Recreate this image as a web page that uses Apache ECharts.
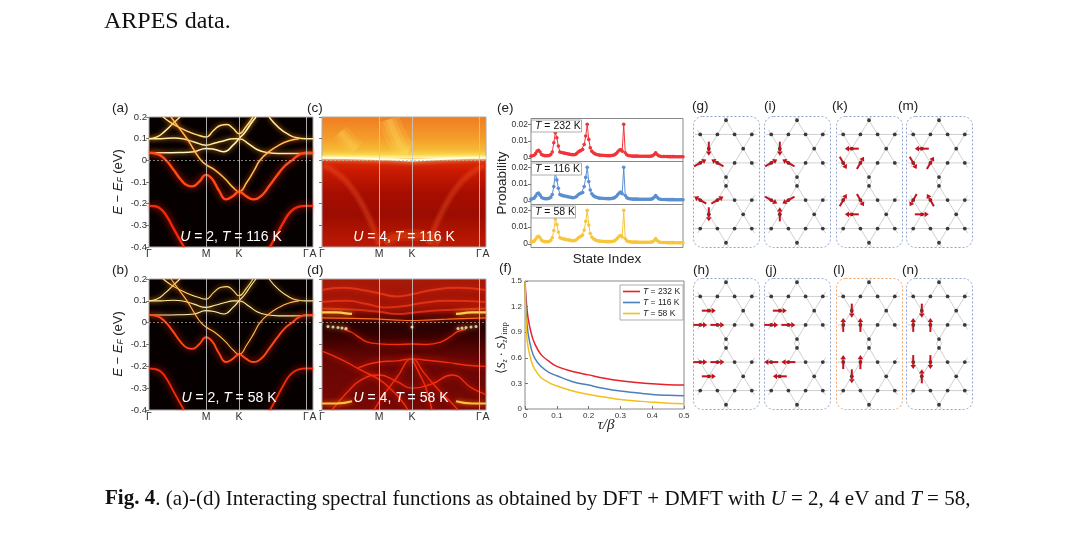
<!DOCTYPE html>
<html>
<head>
<meta charset="utf-8">
<script src="https://cdn.jsdelivr.net/npm/echarts@6/dist/echarts.min.js"></script>
<style>
  html, body { margin: 0; padding: 0; background: #fff; }
  #main { width: 1080px; height: 539px; }
</style>
</head>
<body>
<div id="main"></div>
<script>
// k-path ticks (path length, arbitrary units) and their names
var kTicks = [0, 57, 90, 157, 164];
var kNames = ['Γ', 'M', 'K', 'Γ', 'A'];

// U = 2 bands [k, E-EF (eV)] (a)/(b)
var u2BandA = [[0,0.100],[8,0.108],[16,0.135],[24,0.170],[31,0.200]];
var u2BandB = [[14,0.200],[25,0.165],[38,0.135],[50,0.115],[57,0.108],[65,0.140],[72,0.162],[78,0.165],[84,0.148],[90,0.123],[97,0.155],[104,0.200]];
var u2BandC = [[0,0.100],[12,0.100],[25,0.103],[35,0.098],[45,0.085],[57,0.070],[66,0.080],[76,0.092],[84,0.100],[90,0.100],[100,0.075],[108,0.050],[118,0.036],[130,0.031],[145,0.031],[157,0.032],[164,0.032]];
var u2BandD = [[0,0.035],[15,0.035],[30,0.036],[45,0.040],[57,0.055],[66,0.050],[75,0.040],[84,0.070],[90,0.100],[96,0.130],[102,0.170],[107,0.200]];
var u2BandE = [[120,0.200],[130,0.150],[140,0.118],[148,0.104],[157,0.100],[164,0.100]];
var u2BandV = [[22,0.200],[30,0.150],[38,0.100],[46,0.040],[52,0.000],[57,-0.020],[66,-0.045],[76,-0.085],[84,-0.125],[90,-0.145],[98,-0.100],[105,-0.048],[111,0.000],[120,0.040],[130,0.070],[140,0.090],[150,0.100]];
var u2BandW = [[0,0.035],[8,0.030],[16,0.005],[24,-0.040],[32,-0.090],[38,-0.115],[43,-0.120],[50,-0.100],[57,-0.067],[63,-0.085],[70,-0.140],[77,-0.180],[84,-0.165],[90,-0.145],[97,-0.165],[104,-0.180],[112,-0.165],[120,-0.120],[128,-0.070],[136,-0.025],[143,0.000],[150,0.025],[157,0.035],[164,0.035]];
var u2LowL = [[0,-0.210],[6,-0.212],[12,-0.225],[18,-0.260],[24,-0.310],[30,-0.360],[35,-0.400]];
var u2LowR = [[121,-0.400],[127,-0.350],[134,-0.290],[141,-0.240],[149,-0.215],[157,-0.210],[164,-0.210]];

// U = 4, T = 116 K features (c)
var u4hotFermi = [[0,0.012],[20,0.011],[40,0.009],[57,0.006],[70,0.004],[90,0.000],[110,0.004],[130,0.009],[150,0.012],[164,0.012]];
var u4hotPlume = [[67,0.190],[70,0.150],[75,0.100],[80,0.060],[86,0.035]];
var u4hotPlume2 = [[18,0.130],[26,0.090],[34,0.050]];
var u4hotArcL = [[2,-0.025],[15,-0.060],[30,-0.130],[42,-0.220],[52,-0.320],[57,-0.390]];
var u4hotArcR = [[107,-0.390],[112,-0.320],[122,-0.220],[134,-0.130],[149,-0.060],[162,-0.025]];
var u4hotBase = [[62,-0.380],[72,-0.355],[90,-0.345],[108,-0.355],[118,-0.380]];

// U = 4, T = 58 K bands (d)
var u4coldTop1 = [[0,0.150],[20,0.160],[40,0.150],[57,0.135],[75,0.120],[90,0.130],[110,0.150],[135,0.160],[164,0.150]];
var u4coldTop2 = [[0,0.095],[25,0.100],[45,0.085],[62,0.070],[80,0.075],[100,0.090],[125,0.100],[164,0.095]];
var u4coldTop3 = [[0,0.065],[30,0.060],[57,0.050],[75,0.040],[90,0.045],[110,0.055],[135,0.060],[164,0.065]];
var u4coldEdgeL = [[0,0.047],[14,0.047],[22,0.044],[30,0.040]];
var u4coldEdgeR = [[134,0.040],[142,0.044],[150,0.047],[164,0.047]];
var u4coldFermi = [[0,0.022],[30,0.020],[57,0.016],[75,0.012],[90,0.010],[105,0.012],[125,0.016],[164,0.022]];
var u4coldDots = [[6,-0.018],[11,-0.020],[16,-0.022],[20,-0.024],[24,-0.027],[136,-0.027],[140,-0.024],[144,-0.022],[149,-0.020],[154,-0.018],[90,-0.020]];
var u4coldB1 = [[22,-0.030],[30,-0.045],[38,-0.070],[45,-0.088],[57,-0.097],[75,-0.100],[90,-0.098],[105,-0.100],[118,-0.090],[128,-0.065],[136,-0.040],[144,-0.030]];
var u4coldB2 = [[35,-0.210],[57,-0.180],[75,-0.175],[90,-0.166],[105,-0.172],[125,-0.182],[145,-0.195],[164,-0.200]];
var u4coldB3 = [[0,-0.130],[20,-0.170],[40,-0.220],[57,-0.260],[70,-0.310],[80,-0.360],[86,-0.400]];
var u4coldB4 = [[52,-0.400],[62,-0.330],[75,-0.250],[90,-0.166],[102,-0.230],[115,-0.300],[128,-0.360],[136,-0.400]];
var u4coldB5 = [[90,-0.166],[97,-0.230],[104,-0.300],[110,-0.400]];
var u4coldB6 = [[10,-0.400],[25,-0.320],[40,-0.260],[57,-0.240],[75,-0.270],[90,-0.300],[110,-0.280],[130,-0.240],[150,-0.300],[164,-0.330]];
var u4coldBotL = [[0,-0.370],[15,-0.370],[30,-0.360]];
var u4coldBotR = [[134,-0.360],[150,-0.370],[164,-0.370]];

// (e) state probabilities, state index 0..100
var probT232 = [.0010,.0012,.0015,.0025,.0040,.0045,.0035,.0020,.0015,.0013,
  .0012,.0012,.0014,.0020,.0035,.0090,.0150,.0120,.0070,.0035,
  .0032,.0030,.0028,.0026,.0024,.0022,.0020,.0019,.0018,.0020,
  .0025,.0035,.0040,.0045,.0050,.0080,.0130,.0200,.0110,.0060,
  .0040,.0030,.0025,.0020,.0018,.0016,.0015,.0015,.0014,.0014,
  .0013,.0013,.0013,.0014,.0015,.0018,.0025,.0035,.0045,.0050,
  .0040,.0200,.0030,.0018,.0014,.0012,.0011,.0010,.0010,.0010,
  .0010,.0009,.0009,.0009,.0009,.0009,.0009,.0009,.0009,.0010,
  .0012,.0020,.0030,.0020,.0012,.0009,.0008,.0008,.0008,.0008,
  .0007,.0007,.0007,.0007,.0007,.0006,.0006,.0006,.0006,.0006,.0006];
var probT116 = [.0010,.0012,.0016,.0028,.0042,.0046,.0034,.0020,.0015,.0013,
  .0012,.0013,.0015,.0022,.0038,.0085,.0170,.0125,.0075,.0038,
  .0034,.0031,.0029,.0027,.0025,.0023,.0021,.0019,.0018,.0021,
  .0026,.0036,.0042,.0046,.0050,.0085,.0140,.0200,.0115,.0065,
  .0042,.0031,.0025,.0021,.0018,.0016,.0015,.0015,.0014,.0014,
  .0013,.0013,.0013,.0014,.0016,.0019,.0026,.0036,.0046,.0052,
  .0042,.0200,.0032,.0019,.0014,.0012,.0011,.0010,.0010,.0010,
  .0010,.0009,.0009,.0009,.0009,.0009,.0009,.0009,.0009,.0010,
  .0013,.0021,.0032,.0021,.0012,.0009,.0008,.0008,.0008,.0008,
  .0007,.0007,.0007,.0007,.0007,.0006,.0006,.0006,.0006,.0006,.0006];
var probT58 = [.0010,.0013,.0016,.0027,.0041,.0045,.0035,.0021,.0015,.0013,
  .0012,.0012,.0014,.0021,.0036,.0080,.0148,.0115,.0070,.0036,
  .0033,.0030,.0028,.0026,.0024,.0022,.0021,.0019,.0018,.0020,
  .0026,.0035,.0041,.0046,.0052,.0082,.0135,.0200,.0112,.0062,
  .0041,.0030,.0025,.0020,.0018,.0016,.0015,.0015,.0014,.0014,
  .0013,.0013,.0013,.0014,.0015,.0018,.0026,.0035,.0045,.0050,
  .0041,.0200,.0031,.0018,.0014,.0012,.0011,.0010,.0010,.0010,
  .0010,.0009,.0009,.0009,.0009,.0009,.0009,.0009,.0009,.0010,
  .0012,.0020,.0031,.0020,.0012,.0009,.0008,.0008,.0008,.0008,
  .0007,.0007,.0007,.0007,.0007,.0006,.0006,.0006,.0006,.0006,.0006];

// (f) <Sz(tau) Sz(0)>_imp vs tau/beta
var tauBeta = [0,0.005,0.01,0.02,0.03,0.05,0.075,0.1,0.15,0.2,0.25,0.3,0.35,0.4,0.45,0.5];
var szT232 = [1.50,1.22,1.06,0.88,0.77,0.64,0.56,0.50,0.44,0.40,0.36,0.33,0.31,0.295,0.285,0.28];
var szT116 = [1.50,1.05,0.88,0.70,0.60,0.50,0.43,0.39,0.32,0.28,0.24,0.21,0.19,0.17,0.16,0.155];
var szT58 = [1.50,0.88,0.72,0.56,0.47,0.37,0.31,0.27,0.21,0.17,0.14,0.11,0.095,0.08,0.068,0.062];

// kagome strip (two stars of David), lattice units
var kagomeSites = [
  [0,3.732],[-1.5,2.866],[-0.5,2.866],[0.5,2.866],[1.5,2.866],[-1,2],[1,2],
  [-1.5,1.134],[-0.5,1.134],[0.5,1.134],[1.5,1.134],[0,0.268],
  [0,-0.268],[-1.5,-1.134],[-0.5,-1.134],[0.5,-1.134],[1.5,-1.134],[-1,-2],[1,-2],
  [-1.5,-2.866],[-0.5,-2.866],[0.5,-2.866],[1.5,-2.866],[0,-3.732]
];
var kagomeTriangles = [
  [[0,3.732],[-1.5,1.134],[1.5,1.134]],
  [[0,0.268],[-1.5,2.866],[1.5,2.866]],
  [[0,-0.268],[-1.5,-2.866],[1.5,-2.866]],
  [[0,-3.732],[-1.5,-1.134],[1.5,-1.134]]
];
// spin configurations: [x, y, direction in degrees]
var spinG = [[-1,2,-90],[-1.5,1.134,30],[-0.5,1.134,150],[-1.5,-1.134,150],[-0.5,-1.134,30],[-1,-2,-90]];
var spinI = [[-1,2,-90],[-1.5,1.134,30],[-0.5,1.134,150],[-1.5,-1.134,-30],[-0.5,-1.134,210],[-1,-2,90]];
var spinK = [[-1,2,180],[-1.5,1.134,-60],[-0.5,1.134,60],[-1.5,-1.134,60],[-0.5,-1.134,-60],[-1,-2,180]];
var spinM = [[-1,2,180],[-1.5,1.134,-60],[-0.5,1.134,60],[-1.5,-1.134,240],[-0.5,-1.134,120],[-1,-2,0]];
var spinH = [[-1,2,0],[-1.5,1.134,0],[-0.5,1.134,0],[-1.5,-1.134,0],[-0.5,-1.134,0],[-1,-2,0]];
var spinJ = [[-1,2,0],[-1.5,1.134,0],[-0.5,1.134,0],[-1.5,-1.134,180],[-0.5,-1.134,180],[-1,-2,180]];
var spinL = [[-1,2,-90],[-1.5,1.134,90],[-0.5,1.134,90],[-1.5,-1.134,90],[-0.5,-1.134,90],[-1,-2,-90]];
var spinN = [[-1,2,-90],[-1.5,1.134,90],[-0.5,1.134,90],[-1.5,-1.134,-90],[-0.5,-1.134,-90],[-1,-2,90]];

var SANS = 'Liberation Sans';
var SERIF = 'Liberation Serif';

var chart = echarts.init(document.getElementById('main'));

var grids = [], xAxes = [], yAxes = [], series = [], graphics = [];

function addGrid(g, xa, ya) {
  grids.push(g); xAxes.push(xa); yAxes.push(ya);
  xAxes[xAxes.length - 1].gridIndex = grids.length - 1;
  yAxes[yAxes.length - 1].gridIndex = grids.length - 1;
  return grids.length - 1;
}

function fmt1(v) { return v === 0 ? '0' : String(parseFloat(v.toFixed(2))); }

// ---- band panels (a)-(d) ----
function bandPanel(left, top, h, bg, showY) {
  return addGrid(
    { left: left, top: top, width: 164, height: h, show: true, borderColor: '#aaa', borderWidth: 1, backgroundColor: bg },
    { type: 'value', min: 0, max: 164,
      axisLine: { show: false }, splitLine: { show: false },
      axisTick: { customValues: [0, 57, 90, 157], length: 3, lineStyle: { color: '#777' } },
      axisLabel: { customValues: kTicks, margin: 2, fontSize: 10.5, color: '#333', fontFamily: SANS,
        formatter: function (v) { return kNames[kTicks.indexOf(v)]; } } },
    { type: 'value', min: -0.4, max: 0.2, interval: 0.1,
      axisLine: { show: false }, splitLine: { show: false },
      axisTick: { length: 3, lineStyle: { color: '#777' } },
      axisLabel: { show: showY, fontSize: 9.5, color: '#333', fontFamily: SANS, margin: 2, formatter: fmt1 } }
  );
}

function bandLine(gi, data, color, width, glow, glowColor) {
  return { type: 'line', xAxisIndex: gi, yAxisIndex: gi, data: data, smooth: 0.5, symbol: 'none', silent: true, z: 3,
    lineStyle: { color: color, width: width, shadowBlur: glow, shadowColor: glowColor || color, cap: 'butt' } };
}

function guideLines(gi) {
  return { type: 'line', xAxisIndex: gi, yAxisIndex: gi, data: [], z: 4, silent: true,
    markLine: { silent: true, symbol: 'none', label: { show: false }, animation: false,
      lineStyle: { color: '#c8c8c8', width: 1, type: 'solid', opacity: 0.85 },
      data: [{ xAxis: 57 }, { xAxis: 90 }, { xAxis: 157 },
        { yAxis: 0, lineStyle: { type: [2, 2], color: '#bbb', width: 0.8 } }] } };
}

var hotBg = new echarts.graphic.LinearGradient(0, 0, 0, 1, [
  { offset: 0, color: '#f07c22' }, { offset: 0.17, color: '#f49e2a' }, { offset: 0.25, color: '#f6b834' },
  { offset: 0.29, color: '#f8d248' }, { offset: 0.315, color: '#fff0a0' }, { offset: 0.34, color: '#dc2806' },
  { offset: 0.42, color: '#c81a02' }, { offset: 0.58, color: '#a80e00' }, { offset: 0.75, color: '#9c0c00' },
  { offset: 0.92, color: '#b41602' }, { offset: 1, color: '#bc1a04' }]);
var coldBg = new echarts.graphic.LinearGradient(0, 0, 0, 1, [
  { offset: 0, color: '#a81a08' }, { offset: 0.2, color: '#9c1206' }, { offset: 0.26, color: '#760a04' },
  { offset: 0.3, color: '#340000' }, { offset: 0.37, color: '#2a0000' }, { offset: 0.46, color: '#3c0100' },
  { offset: 0.6, color: '#660604' }, { offset: 1, color: '#780804' }]);

var gA = bandPanel(149, 117, 130, '#060000', true);
var gC = bandPanel(322, 117, 130, hotBg, false);
var gB = bandPanel(149, 279, 131, '#060000', true);
var gD = bandPanel(322, 279, 131, coldBg, false);

[[gA, 1.5, 2.4], [gB, 1.1, 1.9]].forEach(function (p) {
  var g = p[0], w = p[1], wr = p[2];
  series.push(bandLine(g, u2BandA, '#fff2a0', w, 5, '#ff9a20'));
  series.push(bandLine(g, u2BandB, '#ffe27a', w, 5, '#ff8a10'));
  series.push(bandLine(g, u2BandC, '#fff0a0', w, 5, '#ff9a20'));
  series.push(bandLine(g, u2BandD, '#fff6c0', w, 5, '#ffa020'));
  series.push(bandLine(g, u2BandE, '#ffe890', w, 5, '#ff9020'));
  series.push(bandLine(g, u2BandV, '#ffc050', w, 5, '#ff6010'));
  series.push(bandLine(g, u2BandW, '#ff4a14', wr, 7, '#ff2000'));
  series.push(bandLine(g, u2LowL, '#f22a08', wr, 7, '#ff1800'));
  series.push(bandLine(g, u2LowR, '#f22a08', wr, 7, '#ff1800'));
  series.push(guideLines(g));
});

// soft yellow plumes in (c), layered without shadows so nothing leaks past the frame
[[22, 0.15], [13, 0.18], [6, 0.22]].forEach(function (s) {
  series.push(bandLine(gC, u4hotPlume, 'rgba(255,228,100,' + s[1] + ')', s[0], 0));
  series.push(bandLine(gC, u4hotPlume2, 'rgba(255,215,90,' + s[1] + ')', s[0] * 0.8, 0));
});
[[8, 0.15], [4, 0.2]].forEach(function (s) {
  series.push(bandLine(gC, u4hotArcL, 'rgba(255,95,45,' + s[1] + ')', s[0], 0));
  series.push(bandLine(gC, u4hotArcR, 'rgba(255,95,45,' + s[1] + ')', s[0], 0));
});
[[12, 0.2], [6, 0.25]].forEach(function (s) {
  series.push(bandLine(gC, u4hotBase, 'rgba(245,90,25,' + s[1] + ')', s[0], 0));
});
series.push(bandLine(gC, u4hotFermi, '#fffbe0', 2.2, 5, '#ffffa0'));
series.push(guideLines(gC));

[u4coldTop1, u4coldTop2, u4coldTop3].forEach(function (d) {
  series.push(bandLine(gD, d, 'rgba(255,70,30,0.6)', 2, 6, '#ff3010'));
});
[u4coldB1, u4coldB2, u4coldB3, u4coldB4, u4coldB5, u4coldB6].forEach(function (d) {
  series.push(bandLine(gD, d, '#f03010', 1.4, 6, '#ff2000'));
});
series.push(bandLine(gD, u4coldFermi, '#ff6a20', 1.2, 4, '#ff4010'));
series.push(bandLine(gD, u4coldEdgeL, '#ffd050', 2.2, 6, '#ff9000'));
series.push(bandLine(gD, u4coldEdgeR, '#ffd050', 2.2, 6, '#ff9000'));
series.push(bandLine(gD, u4coldBotL, '#ffc040', 2, 5, '#ff8000'));
series.push(bandLine(gD, u4coldBotR, '#ffc040', 2, 5, '#ff8000'));
series.push({ type: 'scatter', xAxisIndex: gD, yAxisIndex: gD, data: u4coldDots, symbolSize: 3, z: 5, silent: true,
  itemStyle: { color: '#fff4d0', shadowBlur: 4, shadowColor: '#ffb040' } });
series.push(guideLines(gD));

// ---- (e) probabilities ----
var probSets = [[probT232, '#f0343a', 118.5, '232'], [probT116, '#5b8fcf', 161.5, '116'], [probT58, '#f7c63a', 204.5, '58']];
probSets.forEach(function (p) {
  var gi = addGrid(
    { left: 531, top: p[2], width: 152, height: 43, show: true, borderColor: '#888', borderWidth: 1 },
    { type: 'value', min: 0, max: 100, show: false },
    { type: 'value', min: -0.0022, max: 0.0235,
      axisLine: { show: false }, splitLine: { show: false },
      axisTick: { customValues: [0, 0.01, 0.02], length: 3, lineStyle: { color: '#777' } },
      axisLabel: { customValues: [0, 0.01, 0.02], fontSize: 8.5, color: '#333', fontFamily: SANS, margin: 3,
        formatter: function (v) { return v === 0 ? '0' : v.toFixed(2); } } }
  );
  series.push({ type: 'line', name: 'p' + p[3], xAxisIndex: gi, yAxisIndex: gi, silent: true,
    data: p[0].map(function (v, i) { return [i, v]; }),
    symbol: 'circle', symbolSize: 3.6, showAllSymbol: true,
    lineStyle: { color: p[1], width: 1 }, itemStyle: { color: p[1] } });
  graphics.push({ type: 'rect', shape: { x: 531.5, y: p[2] + 1.5, width: p[3] === '58' ? 44 : 50, height: 12 },
    style: { fill: '#fff', stroke: '#999', lineWidth: 0.8 }, z: 20 });
  graphics.push({ type: 'text', x: 535, y: p[2] + 7.8, z: 21,
    style: { text: '{i|T} = ' + p[3] + ' K', fill: '#111', font: '10.5px ' + SANS, verticalAlign: 'middle',
      rich: { i: { fontStyle: 'italic', fontSize: 10.5, fontFamily: SANS } } } });
});

// ---- (f) spin correlation ----
var gF = addGrid(
  { left: 525, top: 281, width: 159, height: 128, show: true, borderColor: '#888', borderWidth: 1 },
  { type: 'value', min: 0, max: 0.5, interval: 0.1,
    axisLine: { show: false }, splitLine: { show: false },
    axisTick: { inside: true, length: 3, lineStyle: { color: '#777' } },
    axisLabel: { fontSize: 8, color: '#333', fontFamily: SANS, margin: 3, formatter: fmt1 } },
  { type: 'value', min: 0, max: 1.5, interval: 0.3,
    axisLine: { show: false }, splitLine: { show: false },
    axisTick: { inside: true, length: 3, lineStyle: { color: '#777' } },
    axisLabel: { fontSize: 8, color: '#333', fontFamily: SANS, margin: 3, formatter: fmt1 } }
);
[['T = 232 K', szT232, '#e8202a'], ['T = 116 K', szT116, '#4d7fb8'], ['T = 58 K', szT58, '#f2c019']].forEach(function (s) {
  series.push({ type: 'line', name: s[0], xAxisIndex: gF, yAxisIndex: gF, smooth: 0.4, symbol: 'none', silent: true,
    data: tauBeta.map(function (t, i) { return [t, s[1][i]]; }),
    lineStyle: { color: s[2], width: 1.5 }, itemStyle: { color: s[2] } });
});

// ---- (g)-(n) kagome spin configurations ----
var bonds = [];
kagomeTriangles.forEach(function (tri) {
  for (var i = 0; i < 3; i++) {
    var a = tri[i], b = tri[(i + 1) % 3];
    var dx = b[0] - a[0], dy = b[1] - a[1], len = Math.sqrt(dx * dx + dy * dy), e = 0.32 / len;
    bonds.push([a[0] - dx * e, a[1] - dy * e, b[0] + dx * e, b[1] + dy * e]);
  }
});

var latticePanels = [
  [693, 116, spinG, '#8ea4cc'], [764, 116, spinI, '#8ea4cc'], [836, 116, spinK, '#8ea4cc'], [906, 116, spinM, '#8ea4cc'],
  [693, 278, spinH, '#8ea4cc'], [764, 278, spinJ, '#8ea4cc'], [836, 278, spinL, '#eaa468'], [906, 278, spinN, '#8ea4cc']
];
latticePanels.forEach(function (p) {
  var gi = addGrid(
    { left: p[0], top: p[1], width: 66, height: 131 },
    { type: 'value', min: -1.92, max: 1.92, show: false },
    { type: 'value', min: -3.99, max: 3.99, show: false }
  );
  graphics.push({ type: 'rect', shape: { x: p[0] + 0.5, y: p[1] + 0.5, width: 66, height: 131, r: 9 },
    style: { fill: 'none', stroke: p[3], lineWidth: 1, lineDash: [2, 2] }, z: 1 });
  series.push({ type: 'custom', xAxisIndex: gi, yAxisIndex: gi, data: bonds, silent: true, z: 2,
    encode: { x: [0, 2], y: [1, 3] },
    renderItem: function (params, api) {
      var p1 = api.coord([api.value(0), api.value(1)]);
      var p2 = api.coord([api.value(2), api.value(3)]);
      return { type: 'line', shape: { x1: p1[0], y1: p1[1], x2: p2[0], y2: p2[1] },
        style: { stroke: '#c4c4c4', lineWidth: 0.8 } };
    } });
  series.push({ type: 'scatter', xAxisIndex: gi, yAxisIndex: gi, data: kagomeSites, symbolSize: 3.8, silent: true, z: 3,
    itemStyle: { color: '#111' } });
  series.push({ type: 'custom', xAxisIndex: gi, yAxisIndex: gi, data: p[2], silent: true, z: 4,
    encode: { x: 0, y: 1 },
    renderItem: function (params, api) {
      var c = api.coord([api.value(0), api.value(1)]);
      var a = api.value(2) * Math.PI / 180;
      var dx = Math.cos(a), dy = -Math.sin(a);
      var L = 7, H = 4.2, W = 2.8;
      var x2 = c[0] + dx * L, y2 = c[1] + dy * L;
      var bx = x2 - dx * H, by = y2 - dy * H;
      return { type: 'group', children: [
        { type: 'line', shape: { x1: c[0] - dx * L, y1: c[1] - dy * L, x2: bx, y2: by },
          style: { stroke: '#c4121c', lineWidth: 2 } },
        { type: 'polygon', shape: { points: [[x2, y2], [bx - dy * W, by + dx * W], [bx + dy * W, by - dx * W]] },
          style: { fill: '#c4121c' } }
      ] };
    } });
});

// ---- texts ----
function label(x, y, text, size, extra) {
  var st = { text: text, fill: '#222', font: size + 'px ' + SANS, verticalAlign: 'middle' };
  if (extra) for (var k in extra) st[k] = extra[k];
  graphics.push({ type: 'text', x: x, y: y, style: st, z: 30 });
}
[['(a)', 112, 108], ['(c)', 307, 108], ['(e)', 497, 108], ['(b)', 112, 270], ['(d)', 307, 270], ['(f)', 499, 268],
 ['(g)', 692, 106], ['(i)', 764, 106], ['(k)', 832, 106], ['(m)', 898, 106],
 ['(h)', 693, 270], ['(j)', 765, 270], ['(l)', 833, 270], ['(n)', 902, 270]].forEach(function (l) {
  label(l[1], l[2], l[0], 13.5);
});

var whiteRich = { i: { fontStyle: 'italic', fontSize: 14, fontFamily: SANS, fill: '#fff' } };
label(231, 237, '{i|U} = 2, {i|T} = 116 K', 14, { fill: '#fff', align: 'center', rich: whiteRich });
label(404, 237, '{i|U} = 4, {i|T} = 116 K', 14, { fill: '#fff', align: 'center', rich: whiteRich });
label(229, 398, '{i|U} = 2, {i|T} = 58 K', 14, { fill: '#fff', align: 'center', rich: whiteRich });
label(401, 398, '{i|U} = 4, {i|T} = 58 K', 14, { fill: '#fff', align: 'center', rich: whiteRich });

var eRich = { i: { fontStyle: 'italic', fontSize: 13, fontFamily: SANS }, s: { fontStyle: 'italic', fontSize: 8.5, fontFamily: SANS, padding: [6, 0, 0, 0] } };
[182, 344].forEach(function (cy) {
  graphics.push({ type: 'text', x: 118, y: cy, rotation: Math.PI / 2, z: 30,
    style: { text: '{i|E} − {i|E}{s|F} (eV)', fill: '#222', font: '13px ' + SANS, align: 'center', verticalAlign: 'middle', rich: eRich } });
});
graphics.push({ type: 'text', x: 502, y: 183, rotation: Math.PI / 2, z: 30,
  style: { text: 'Probability', fill: '#222', font: '13.5px ' + SANS, align: 'center', verticalAlign: 'middle' } });
label(607, 259, 'State Index', 13.5, { align: 'center' });
graphics.push({ type: 'text', x: 502, y: 348, rotation: Math.PI / 2, z: 30,
  style: { text: '⟨{i|S}{s|z} · {i|S}{s|z}⟩{r|imp}', fill: '#222', font: '12.5px ' + SERIF, align: 'center', verticalAlign: 'middle',
    rich: { i: { fontStyle: 'italic', fontSize: 12.5, fontFamily: SERIF },
            s: { fontStyle: 'italic', fontSize: 8, fontFamily: SERIF, padding: [6, 0, 0, 0] },
            r: { fontSize: 8, fontFamily: SERIF, padding: [6, 0, 0, 0] } } } });
label(606, 425, 'τ/β', 15, { align: 'center', font: 'italic 15px ' + SERIF });

graphics.push({ type: 'text', x: 104, y: 22, z: 30,
  style: { text: 'ARPES data.', fill: '#111', font: '24px ' + SERIF, verticalAlign: 'middle' } });
graphics.push({ type: 'text', x: 105, y: 499, z: 30,
  style: { text: '{b|Fig. 4}. (a)-(d) Interacting spectral functions as obtained by DFT + DMFT with {i|U} = 2, 4 eV and {i|T} = 58,',
    fill: '#111', font: '21px ' + SERIF, verticalAlign: 'middle',
    rich: { b: { fontWeight: 'bold', fontSize: 21, fontFamily: SERIF }, i: { fontStyle: 'italic', fontSize: 21, fontFamily: SERIF } } } });

chart.setOption({
  animation: false,
  backgroundColor: '#fff',
  grid: grids,
  xAxis: xAxes,
  yAxis: yAxes,
  legend: {
    data: ['T = 232 K', 'T = 116 K', 'T = 58 K'],
    orient: 'vertical', left: 620, top: 285, itemGap: 2, itemWidth: 17, itemHeight: 1.6, icon: 'rect',
    padding: [2, 3, 2, 3], borderColor: '#999', borderWidth: 0.8, backgroundColor: '#fff',
    textStyle: { fontSize: 8.5, color: '#222', fontFamily: SANS, padding: [0, 0, 0, -2],
      rich: { i: { fontStyle: 'italic', fontSize: 8.5, fontFamily: SANS } } },
    formatter: function (n) { return '{i|T}' + n.slice(1); },
    selectedMode: false
  },
  series: series,
  graphic: graphics
});
</script>
</body>
</html>
